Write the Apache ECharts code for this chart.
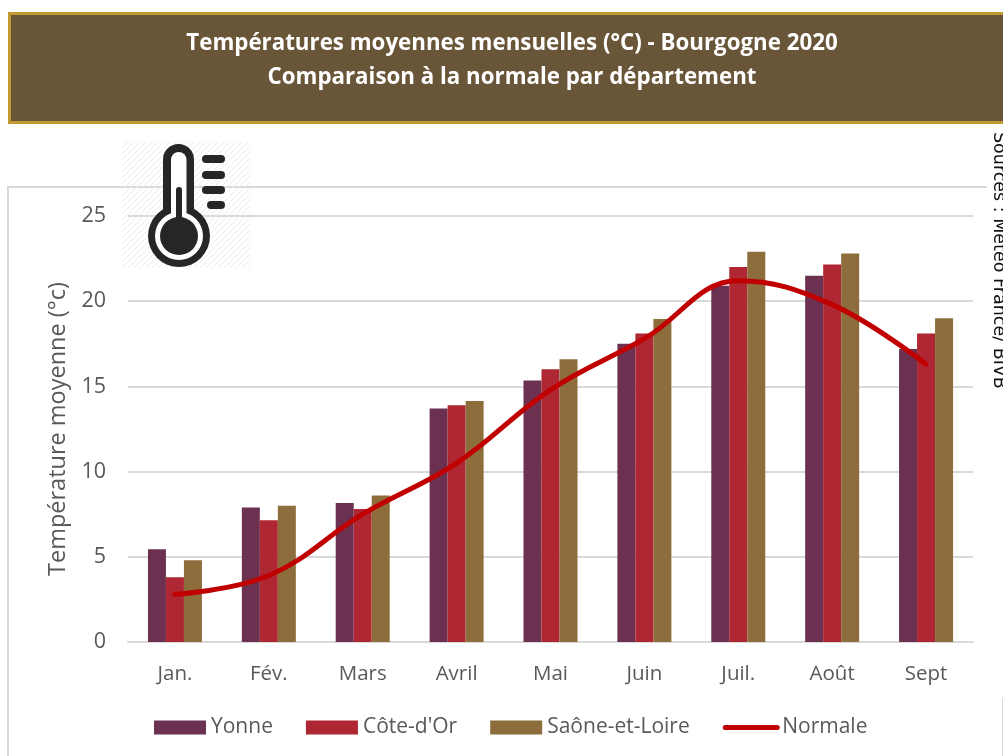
<!DOCTYPE html>
<html><head><meta charset="utf-8">
<style>html,body{margin:0;padding:0;background:#fff;overflow:hidden}#c{width:1003px;height:756px}</style>
<script src="https://cdn.jsdelivr.net/npm/echarts@6/dist/echarts.min.js"></script>
</head><body><div id="c"></div>
<script>
const months = ['Jan.','Fév.','Mars','Avril','Mai','Juin','Juil.','Août','Sept'];
const yonne = [5.45,7.9,8.15,13.7,15.35,17.5,20.9,21.5,17.2];
const coteDor = [3.8,7.15,7.8,13.9,16,18.1,22,22.15,18.1];
const saone = [4.8,8,8.6,14.15,16.6,18.95,22.9,22.8,19];
const normale = [2.8,3.9,7.5,10.5,14.8,17.8,21.2,19.8,16.3];

const FONT = '"Open Sans", sans-serif';
const GREY = '#595959';
const DARK = '#262626';

const hatch = document.createElement('canvas');
hatch.width = 6; hatch.height = 6;
const hc = hatch.getContext('2d');
hc.strokeStyle = '#ececec'; hc.lineWidth = 1;
hc.beginPath(); hc.moveTo(0,6); hc.lineTo(6,0); hc.moveTo(-1,1); hc.lineTo(1,-1); hc.moveTo(5,7); hc.lineTo(7,5); hc.stroke();

const chart = echarts.init(document.getElementById('c'), null, {renderer:'canvas'});
function rr(x,y,w,h,r,fill,z){return {type:'rect',shape:{x,y,width:w,height:h,r},style:{fill},z:z,silent:true};}
function circ(cx,cy,r,fill,z){return {type:'circle',shape:{cx,cy,r},style:{fill},z:z,silent:true};}
chart.setOption({
  animation:false,
  backgroundColor:'#fff',
  title:{
    text:'Températures moyennes mensuelles (°C) - Bourgogne 2020\nComparaison à la normale par département',
    left:507, top:22, textAlign:'center',
    textStyle:{color:'#fff',fontFamily:FONT,fontWeight:'bold',fontSize:22.3,lineHeight:34}
  },
  grid:{left:128,right:30,top:216,bottom:114},
  xAxis:{type:'category',data:months,
    axisLine:{lineStyle:{color:'#d9d9d9',width:2}},axisTick:{show:false},
    axisLabel:{color:GREY,fontFamily:FONT,fontSize:20.5,margin:22}},
  yAxis:{type:'value',min:0,max:25,interval:5,
    name:'Température moyenne (°c)',nameLocation:'middle',nameGap:58,nameRotate:90,
    nameTextStyle:{color:GREY,fontFamily:FONT,fontSize:23.5},
    axisLine:{show:false},axisTick:{show:false},
    splitLine:{lineStyle:{color:'#d9d9d9',width:2}},
    axisLabel:{color:GREY,fontFamily:FONT,fontSize:21.5,margin:22,padding:[4,0,0,0]}},
  legend:{left:154,top:717,padding:0,itemWidth:52,itemHeight:14,itemGap:33,
    textStyle:{color:GREY,fontFamily:FONT,fontSize:21},
    data:[{name:'Yonne',icon:'rect'},{name:"Côte-d'Or",icon:'rect'},{name:'Saône-et-Loire',icon:'rect'},
      {name:'Normale',itemStyle:{opacity:0},lineStyle:{width:5,color:'#c00000',cap:'round'}}]},
  series:[
    {name:'Yonne',type:'bar',data:yonne,barWidth:18,barGap:'0%',itemStyle:{color:'#6c3150'}},
    {name:"Côte-d'Or",type:'bar',data:coteDor,barWidth:18,itemStyle:{color:'#ae2732'}},
    {name:'Saône-et-Loire',type:'bar',data:saone,barWidth:18,itemStyle:{color:'#8e6d3c'}},
    {name:'Normale',type:'line',data:normale,smooth:0.4,symbol:'none',z:5,
      lineStyle:{color:'#c00000',width:5,cap:'round'},itemStyle:{color:'#c00000'}}
  ],
  graphic:[
    {type:'rect',shape:{x:9.5,y:13.5,width:1000,height:109},style:{fill:'#695537',stroke:'#c09a30',lineWidth:3},z:0,silent:true},
    {type:'line',shape:{x1:8,y1:187,x2:987,y2:187},style:{stroke:'#d9d9d9',lineWidth:2},z:0,silent:true},
    {type:'line',shape:{x1:8,y1:186,x2:8,y2:756},style:{stroke:'#d9d9d9',lineWidth:2},z:0,silent:true},
    {type:'line',shape:{x1:1002.5,y1:698,x2:1002.5,y2:756},style:{stroke:'#d9d9d9',lineWidth:1},z:0,silent:true},
    {type:'rect',shape:{x:122,y:142,width:128,height:126},style:{fill:{image:hatch,repeat:'repeat'}},z:20,silent:true},
    rr(163,144,31,85,15.5,DARK,21),
    circ(179,236,31,DARK,21),
    rr(171,152,15.5,75,7.7,'#fff',22),
    circ(179,236,24,'#fff',22),
    circ(179,236,19,DARK,23),
    rr(176,187,6,40,3,DARK,23),
    rr(202,155,23,8,4,DARK,21),
    rr(202,171,23,8,4,DARK,21),
    rr(202,186,23,8,4,DARK,21),
    rr(207,201,18,8,4,DARK,21),
    {type:'text',x:990,y:132,rotation:-Math.PI/2,z:30,silent:true,
      style:{text:'Sources : Météo France/ BIVB',fill:'#111',font:'17.5px "DejaVu Sans", sans-serif',textAlign:'left',textVerticalAlign:'bottom'}}
  ]
});
</script></body></html>
